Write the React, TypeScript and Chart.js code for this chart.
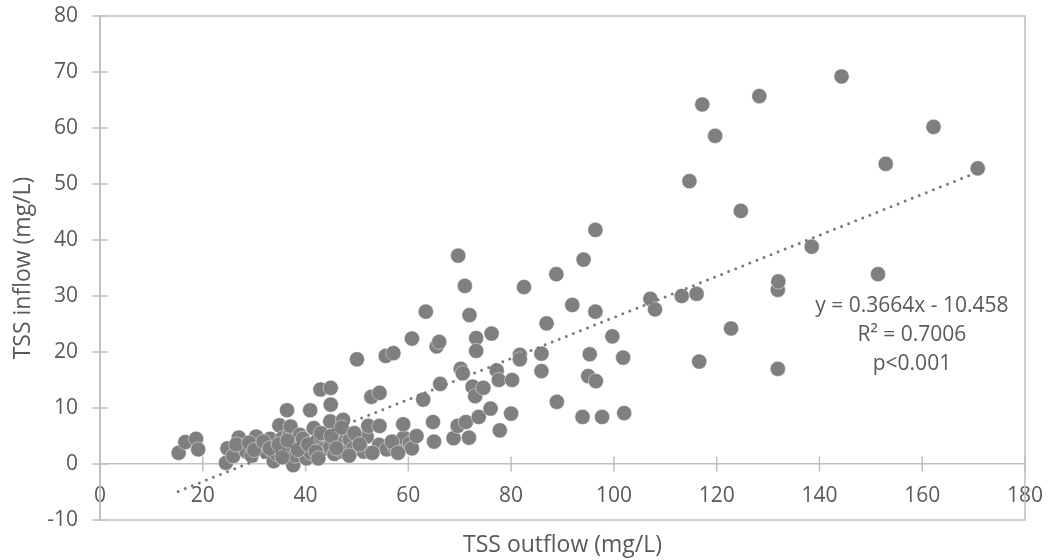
import React, { useEffect, useRef } from 'react';
import { Chart, registerables } from 'chart.js';

Chart.register(...registerables);

// TSS outflow (x) and TSS inflow (y), mg/L
const outflow = [
  15.3, 16.6, 18.7, 19.1, 24.5, 24.8, 25.9, 27.0, 27.8, 28.5, 29.5, 30.4, 31.0, 32.3, 33.1, 33.8, 34.4, 34.9,
  35.5, 36.0, 36.4, 36.9, 37.1, 37.6, 38.0, 38.3, 38.9, 39.6, 40.2, 40.9, 41.0, 41.6, 42.2, 42.9, 43.3, 44.0,
  44.8, 44.9, 44.9, 44.8, 45.6, 46.3, 47.3, 47.3, 47.9, 48.6, 49.3, 50.0, 51.3, 51.9, 52.2, 52.8, 54.3, 54.4,
  54.4, 55.6, 55.8, 57.1, 57.4, 59.0, 59.1, 59.0, 60.3, 60.7, 60.7, 61.6, 62.9, 63.4, 64.8, 65.0, 65.5, 66.0,
  66.2, 68.8, 69.6, 69.7, 70.2, 70.6, 71.0, 71.2, 71.8, 71.9, 72.5, 73.0, 73.2, 73.2, 73.7, 74.6, 76.0, 76.2,
  77.2, 77.6, 77.8, 80.0, 80.2, 81.7, 81.7, 82.5, 85.9, 85.9, 86.9, 88.8, 88.9, 91.9, 93.9, 94.1, 95.0, 95.3,
  96.4, 96.4, 96.5, 97.7, 99.7, 101.8, 102.0, 107.1, 108.0, 113.2, 114.7, 116.1, 116.6, 117.2, 119.7, 122.8,
  124.7, 128.3, 131.9, 132.0, 131.9, 138.5, 144.3, 151.4, 152.9, 162.2, 170.8,
  26.5, 29.0, 30.0, 31.8, 33.0, 34.8, 35.5, 36.5, 38.5, 39.5, 40.5, 42.0, 43.0, 45.0, 46.0, 47.0, 48.5, 42.5,
  49.5, 50.5, 53.0, 56.8, 58.0,
];
const inflow = [
  2.0, 3.9, 4.5, 2.6, 0.2, 2.8, 1.4, 4.7, 3.2, 2.2, 1.5, 4.9, 3.2, 2.2, 4.5, 0.5, 1.8, 6.9,
  4.6, 2.6, 9.6, 5.3, 6.7, -0.2, 1.5, 3.7, 5.2, 2.2, 1.0, 9.6, 2.0, 6.4, 4.1, 13.3, 2.6, 5.4,
  3.1, 13.6, 10.6, 7.6, 1.8, 4.6, 7.9, 2.2, 5.5, 4.3, 2.8, 18.7, 2.2, 4.9, 6.8, 12.0, 3.4, 12.7,
  6.8, 19.3, 2.6, 19.8, 3.0, 3.4, 4.7, 7.1, 3.7, 22.4, 2.8, 5.0, 11.5, 27.2, 7.5, 4.0, 21.0, 21.8,
  14.3, 4.6, 6.8, 37.2, 17.0, 16.2, 31.8, 7.5, 4.7, 26.6, 13.8, 12.1, 22.5, 20.2, 8.4, 13.6, 9.9, 23.3,
  16.7, 15.0, 6.0, 9.0, 15.0, 19.5, 18.7, 31.6, 19.7, 16.6, 25.1, 33.9, 11.1, 28.4, 8.4, 36.5, 15.7, 19.6,
  27.2, 41.8, 14.8, 8.4, 22.8, 19.0, 9.1, 29.5, 27.6, 30.0, 50.5, 30.4, 18.3, 64.2, 58.6, 24.2,
  45.2, 65.7, 31.1, 32.6, 17.0, 38.8, 69.2, 33.9, 53.6, 60.2, 52.8,
  3.5, 3.8, 2.5, 4.0, 2.8, 3.5, 1.2, 4.2, 2.5, 4.5, 3.5, 2.2, 5.5, 5.0, 2.8, 6.5, 1.5, 1.0,
  5.5, 3.5, 2.0, 4.0, 2.0,
];

// Linear trendline end points (y = 0.3664x - 10.458)
const trendOutflow = [15.2, 170.8];
const trendInflow = [-4.89, 52.12];

const xRange = [0, 180];
const xStep = 20;
const yRange = [-10, 80];
const yStep = 10;

const equationLines = ['y = 0.3664x - 10.458', 'R² = 0.7006', 'p<0.001'];
const equationAt = [158, 28.2];

const xTitle = 'TSS outflow (mg/L)';
const yTitle = 'TSS inflow (mg/L)';

const FONT = '"Open Sans"';
const TEXT = '#595959';
const AXIS = '#bfbfbf';

const noPadding = (s: any) => {
  s.paddingTop = 0;
  s.paddingBottom = 0;
  s.paddingLeft = 0;
  s.paddingRight = 0;
};

const framePlugin = {
  id: 'frame',
  beforeDatasetsDraw(chart: any) {
    const { ctx, chartArea: a, scales } = chart;
    const x = scales.x;
    const y = scales.y;
    ctx.save();
    ctx.strokeStyle = AXIS;
    ctx.lineWidth = 1.5;
    ctx.strokeRect(a.left, a.top, a.right - a.left, a.bottom - a.top);
    const y0 = y.getPixelForValue(0);
    ctx.beginPath();
    x.ticks.forEach((t: any) => {
      const px = x.getPixelForValue(t.value);
      ctx.moveTo(px, y0 - 7.5);
      ctx.lineTo(px, y0 + 7.5);
    });
    y.ticks.forEach((t: any) => {
      const py = y.getPixelForValue(t.value);
      ctx.moveTo(a.left - 7.5, py);
      ctx.lineTo(a.left + 7.5, py);
    });
    ctx.stroke();
    ctx.restore();
  },
  afterDatasetsDraw(chart: any) {
    const { ctx, scales } = chart;
    const cx = scales.x.getPixelForValue(equationAt[0]);
    const cy = scales.y.getPixelForValue(equationAt[1]);
    ctx.save();
    ctx.fillStyle = TEXT;
    ctx.font = `21px ${FONT}`;
    ctx.textAlign = 'center';
    ctx.textBaseline = 'middle';
    equationLines.forEach((line, i) => ctx.fillText(line, cx, cy + i * 29));
    ctx.restore();
  },
};

export default function App() {
  const ref = useRef<HTMLCanvasElement>(null);

  useEffect(() => {
    document.body.style.margin = '0';
    const points = outflow.map((v, i) => ({ x: v, y: inflow[i] }));
    const trend = trendOutflow.map((v, i) => ({ x: v, y: trendInflow[i] }));
    const chart = new Chart(ref.current as HTMLCanvasElement, {
      type: 'scatter',
      data: {
        datasets: [
          {
            type: 'line',
            label: 'Trend',
            data: trend,
            borderColor: '#737a83',
            borderWidth: 3,
            borderDash: [0, 7.6],
            borderCapStyle: 'round',
            pointRadius: 0,
            fill: false,
          } as any,
          {
            label: 'TSS',
            data: points,
            backgroundColor: '#7f7f7f',
            borderColor: 'rgba(255,255,255,0.55)',
            borderWidth: 0.8,
            pointRadius: 7.6,
          },
        ],
      },
      options: {
        animation: false,
        responsive: false,
        layout: { padding: { left: 0, right: 25, top: 16, bottom: 0 } },
        plugins: { legend: { display: false }, tooltip: { enabled: false } },
        scales: {
          x: {
            type: 'linear',
            axis: 'x',
            position: { y: 0 } as any,
            min: xRange[0],
            max: xRange[1],
            ticks: {
              stepSize: xStep,
              color: TEXT,
              font: { family: FONT, size: 21 },
              padding: 19,
              maxRotation: 0,
              autoSkip: false,
            },
            grid: { display: false, drawTicks: false },
            border: { display: true, color: AXIS, width: 1.5 },
            afterFit: noPadding,
          },
          x2: {
            type: 'linear',
            axis: 'x',
            position: 'bottom',
            min: xRange[0],
            max: xRange[1],
            ticks: { display: false },
            grid: { display: false, drawTicks: false },
            border: { display: false },
            title: {
              display: true,
              text: xTitle,
              color: TEXT,
              font: { family: FONT, size: 23 },
              padding: { top: 0, bottom: 1.2 },
            },
            afterFit(s: any) {
              s.height = 40;
              noPadding(s);
            },
          },
          y: {
            type: 'linear',
            position: 'left',
            min: yRange[0],
            max: yRange[1],
            ticks: {
              stepSize: yStep,
              color: TEXT,
              font: { family: FONT, size: 21 },
              padding: 22,
            },
            grid: { display: false, drawTicks: false },
            border: { display: true, color: AXIS, width: 1.5 },
            title: {
              display: true,
              text: yTitle,
              color: TEXT,
              font: { family: FONT, size: 23 },
              padding: { top: 9.2, bottom: 0 },
            },
            afterFit(s: any) {
              s.width = 100;
              noPadding(s);
            },
          },
        },
      },
      plugins: [framePlugin],
    });
    return () => chart.destroy();
  }, []);

  return (
    <div style={{ width: 1050, height: 560 }}>
      <canvas ref={ref} width={1050} height={560} style={{ display: 'block' }} />
    </div>
  );
}
